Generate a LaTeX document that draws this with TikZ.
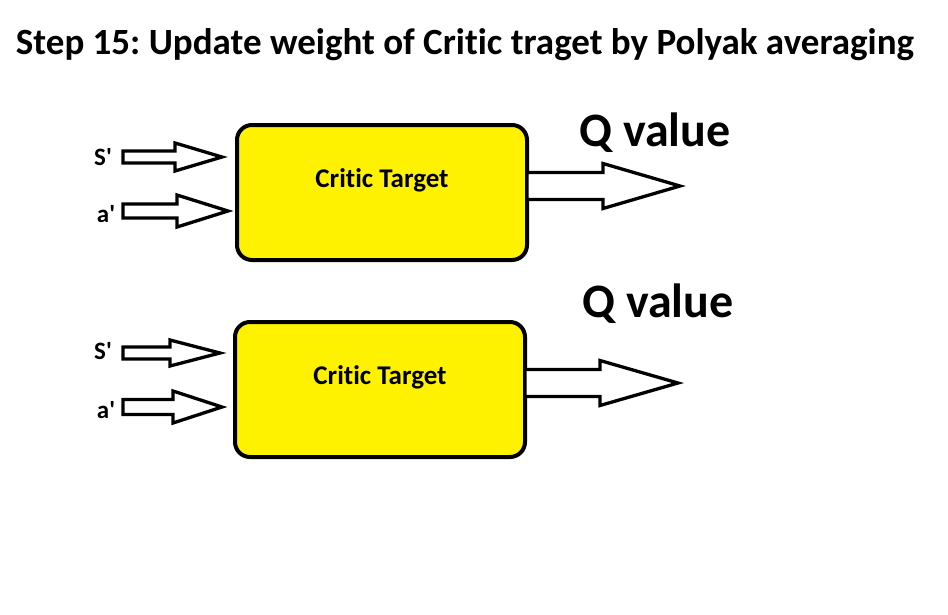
\documentclass[tikz,border=0pt]{standalone}
\usepackage{fontspec}
\setmainfont[Ligatures=NoCommon]{Carlito}
\usetikzlibrary{calc}
\definecolor{boxyellow}{HTML}{FFF200}
\frenchspacing
% fat open arrow: tail, tip, shaft half width, head half width, head length
\newcommand{\fatarrow}[5]{%
\draw[fatline] ($(#1)+(0,-#3)$) -- ($(#2)+(-#5,-#3)$) -- ($(#2)+(-#5,-#4)$) -- (#2)
  -- ($(#2)+(-#5,#4)$) -- ($(#2)+(-#5,#3)$) -- ($(#1)+(0,#3)$) -- cycle;}
\tikzset{
  critic/.style={draw=black, line width=4pt, fill=boxyellow, rounded corners=15pt,
    minimum width=290pt, minimum height=135pt, outer sep=0pt},
  fatline/.style={draw=black, line width=3.3pt, fill=white, line join=miter},
  boxtext/.style={font=\bfseries\fontsize{27}{30}\selectfont},
  inlabel/.style={font=\bfseries\fontsize{25}{28}\selectfont},
  qlabel/.style={font=\bfseries\fontsize{48}{52}\selectfont}
}
\begin{document}
\begin{tikzpicture}[x=1pt,y=-1pt]
\useasboundingbox[fill=white] (0,0) rectangle (948,614);
\node[font=\bfseries\fontsize{37}{42}\selectfont] (title) at (465,45) {Step 15: Update weight of Critic traget by Polyak averaging};

% first critic target
\node[critic] (ct1) at (382,192.5) {};
\node[boxtext] (ct1txt) at ($(ct1.center)+(0,-12)$) {Critic Target};
\node[inlabel] (s1) at (103,157) {S\textquotesingle};
\node[inlabel] (a1) at (106,214) {a\textquotesingle};
\coordinate (s1tail) at (123,157);
\coordinate (s1tip) at (222,157);
\coordinate (a1tail) at (123,211);
\coordinate (a1tip) at (228,211);
\coordinate (q1tail) at (ct1.east |- 0,186);
\coordinate (q1tip) at (680,186);
\fatarrow{s1tail}{s1tip}{6}{14}{47}
\fatarrow{a1tail}{a1tip}{7}{16}{51}
\fatarrow{q1tail}{q1tip}{13.5}{22.5}{77}
\node[qlabel] (q1) at (655,133) {Q value};

% second critic target
\node[critic] (ct2) at (380,389.5) {};
\node[boxtext] (ct2txt) at ($(ct2.center)+(0,-12)$) {Critic Target};
\node[inlabel] (s2) at (103,351) {S\textquotesingle};
\node[inlabel] (a2) at (106,410) {a\textquotesingle};
\coordinate (s2tail) at (123,353);
\coordinate (s2tip) at (220,353);
\coordinate (a2tail) at (123,407);
\coordinate (a2tip) at (222,407);
\coordinate (q2tail) at (ct2.east |- 0,383);
\coordinate (q2tip) at (678,383);
\fatarrow{s2tail}{s2tip}{6}{13}{50}
\fatarrow{a2tail}{a2tip}{7.5}{16}{49}
\fatarrow{q2tail}{q2tip}{13.5}{22.5}{78}
\node[qlabel] (q2) at (658,304) {Q value};
\end{tikzpicture}
\end{document}
